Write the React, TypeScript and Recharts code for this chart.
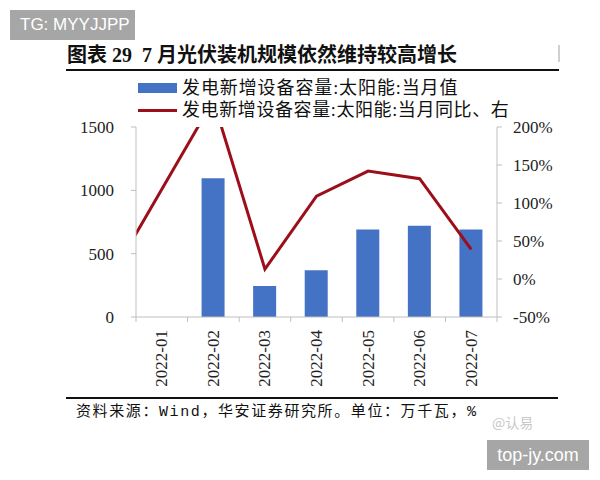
import React from "react";
import { Bar, ComposedChart, Line, XAxis, YAxis } from "recharts";

// months on a numeric x axis; 2021-12 sits left of the visible range
const MONTHS = ["2021-12", "2022-01", "2022-02", "2022-03", "2022-04", "2022-05", "2022-06", "2022-07"];
const CAPACITY = [null, null, 1095, 245, 370, 690, 720, 690];
const YOY = [1, null, 235, 13, 109, 142, 132, 39];

const LEFT_TICKS = [0, 500, 1000, 1500];
const RIGHT_TICKS = [-50, 0, 50, 100, 150, 200];
const X_TICKS = [0.5, 1, 1.5, 2, 2.5, 3, 3.5, 4, 4.5, 5, 5.5, 6, 6.5, 7, 7.5];

const BAR_NAME = "发电新增设备容量:太阳能:当月值";
const LINE_NAME = "发电新增设备容量:太阳能:当月同比、右";
const TITLE = "图表 29  7 月光伏装机规模依然维持较高增长";
const SOURCE = "资料来源：Wind，华安证券研究所。单位：万千瓦，%";

const data = MONTHS.map((m, i) => ({ x: i, month: m, cap: CAPACITY[i], yoy: YOY[i] }));

const BLUE = "#4472C4";
const RED = "#9C0F1A";
const AXIS = "#bfbfbf";
const SERIF = "'Liberation Serif', 'Noto Sans CJK SC', serif";

function XTick(props: any) {
  const { x, y, payload } = props;
  const v = payload.value as number;
  if (v % 1 !== 0) {
    return <line x1={x} x2={x} y1={y} y2={y + 5} stroke={AXIS} />;
  }
  const ty = y + 13;
  return (
    <text
      x={x}
      y={ty}
      transform={`rotate(-90 ${x} ${ty})`}
      textAnchor="end"
      dominantBaseline="central"
      fontFamily={SERIF}
      fontSize={17}
      fill="#222"
    >
      {MONTHS[v]}
    </text>
  );
}

const abs = (s: React.CSSProperties): React.CSSProperties => ({ position: "absolute", ...s });

export default function App() {
  return (
    <div style={abs({ left: 0, top: 0, width: 600, height: 480, background: "#fff", overflow: "hidden" })}>
      <ComposedChart
        width={600}
        height={480}
        data={data}
        margin={{ top: 127, right: 43, bottom: 93, left: 76 }}
      >
        <XAxis
          dataKey="x"
          type="number"
          domain={[0.5, 7.5]}
          allowDataOverflow
          ticks={X_TICKS}
          interval={0}
          tick={<XTick />}
          tickLine={false}
          tickSize={0}
          tickMargin={0}
          height={70}
          stroke={AXIS}
        />
        <YAxis
          yAxisId="left"
          domain={[0, 1500]}
          ticks={LEFT_TICKS}
          width={60}
          stroke={AXIS}
          tickSize={5}
          tickMargin={17}
          tick={{ fill: "#222", fontSize: 17, fontFamily: SERIF }}
        />
        <YAxis
          yAxisId="right"
          orientation="right"
          domain={[-50, 200]}
          allowDataOverflow
          ticks={RIGHT_TICKS}
          width={60}
          stroke={AXIS}
          tickSize={5}
          tickMargin={11}
          tickFormatter={(v: number) => `${v}%`}
          tick={{ fill: "#222", fontSize: 17, fontFamily: SERIF, textAnchor: "start" }}
        />
        <Bar
          yAxisId="left"
          dataKey="cap"
          name={BAR_NAME}
          fill={BLUE}
          barSize={23}
          isAnimationActive={false}
        />
        <Line
          yAxisId="right"
          dataKey="yoy"
          name={LINE_NAME}
          stroke={RED}
          strokeWidth={3}
          dot={false}
          connectNulls
          isAnimationActive={false}
        />
      </ComposedChart>

      {/* watermark boxes */}
      <div
        style={abs({
          left: 10, top: 10, width: 125, height: 30, background: "#a6a6a6", color: "#fff",
          fontFamily: "'Liberation Sans', sans-serif", fontSize: 17, lineHeight: "30px", paddingLeft: 10, boxSizing: "border-box",
        })}
      >
        TG: MYYJJPP
      </div>
      <div
        style={abs({
          left: 487, top: 440, width: 102, height: 30, background: "#a6a6a6", color: "#fff",
          fontFamily: "'Liberation Sans', sans-serif", fontSize: 18, lineHeight: "30px", textAlign: "center",
        })}
      >
        top-jy.com
      </div>

      {/* title */}
      <div
        style={abs({
          left: 67, top: 41, fontFamily: SERIF, fontWeight: 700, fontSize: 20, lineHeight: "28px",
          color: "#111", whiteSpace: "pre",
        })}
      >
        {TITLE}
      </div>
      <div style={abs({ left: 66, top: 69, width: 493, height: 2, background: "#111" })} />
      <div style={abs({ left: 558, top: 45, width: 2, height: 17, background: "#d0d0d0" })} />

      {/* legend */}
      <div style={abs({ left: 138, top: 83, width: 39, height: 10, background: BLUE })} />
      <div style={abs({ left: 182, top: 77, fontFamily: SERIF, fontSize: 18, lineHeight: "22px", letterSpacing: 0.9, color: "#111", whiteSpace: "pre" })}>
        {BAR_NAME}
      </div>
      <div style={abs({ left: 138, top: 109, width: 39, height: 3, background: RED })} />
      <div style={abs({ left: 182, top: 99, fontFamily: SERIF, fontSize: 18, lineHeight: "22px", letterSpacing: 0.6, color: "#111", whiteSpace: "pre" })}>
        {LINE_NAME}
      </div>

      {/* footer */}
      <div style={abs({ left: 66, top: 397, width: 492, height: 2, background: "#111" })} />
      <div
        style={abs({
          left: 76, top: 403, fontFamily: "'Liberation Mono', 'Noto Sans CJK SC', monospace", fontSize: 15,
          lineHeight: "20px", letterSpacing: 1.6, color: "#111", whiteSpace: "pre",
        })}
      >
        {SOURCE}
      </div>
      <div
        style={abs({
          left: 492, top: 413, fontFamily: "'Noto Sans CJK SC', sans-serif", fontSize: 14, lineHeight: "18px",
          color: "#c8c8c8", whiteSpace: "pre",
        })}
      >
        @认易
      </div>
    </div>
  );
}
